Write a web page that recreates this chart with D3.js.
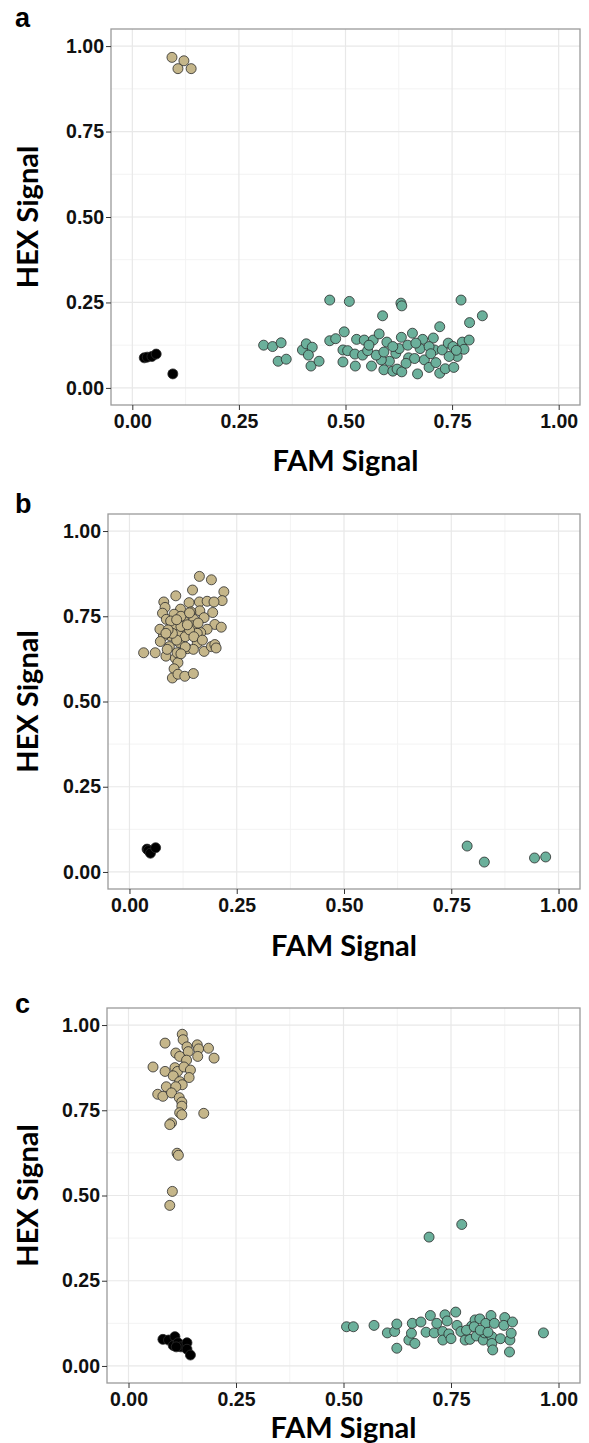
<!DOCTYPE html>
<html>
<head>
<meta charset="utf-8">
<script src="https://cdn.jsdelivr.net/npm/d3@7"></script>
<style>
  body { margin: 0; background: #fff; }
  .tick text { font-family: "Liberation Sans", Arial, sans-serif; font-weight: bold; font-size: 19.5px; fill: #111; }
  .tick line { stroke: #333; }
  .axis-title { font-family: Lato, "Open Sans", sans-serif; font-weight: bold; font-size: 29px; fill: #000; }
  .panel-letter { font-family: "Liberation Sans", Arial, sans-serif; font-weight: bold; font-size: 27px; fill: #000; }
</style>
</head>
<body>
<div id="chart"></div>
<script>
// tick values shared by both axes
const ticks = [0, 0.25, 0.5, 0.75, 1.0];
const minorTicks = [0.125, 0.375, 0.625, 0.875];

// panel a  [FAM, HEX]
const aBlack = [[0.028,0.088],[0.035,0.090],[0.046,0.092],[0.056,0.099],[0.095,0.041]];
const aTan = [[0.093,0.967],[0.121,0.957],[0.107,0.934],[0.138,0.934]];
const aTeal = [
  [0.463,0.257],[0.509,0.253],[0.630,0.248],[0.632,0.240],[0.771,0.257],[0.587,0.211],[0.821,0.211],
  [0.791,0.191],[0.721,0.179],[0.308,0.125],[0.329,0.121],[0.349,0.132],[0.342,0.078],[0.361,0.084],
  [0.399,0.111],[0.408,0.129],[0.422,0.119],[0.413,0.096],[0.419,0.064],[0.438,0.078],[0.463,0.138],
  [0.477,0.144],[0.497,0.164],[0.494,0.111],[0.505,0.109],[0.494,0.076],[0.523,0.064],[0.526,0.142],
  [0.522,0.099],[0.540,0.096],[0.561,0.064],[0.544,0.140],[0.565,0.140],[0.579,0.158],[0.597,0.134],
  [0.590,0.053],[0.611,0.049],[0.621,0.055],[0.632,0.047],[0.603,0.078],[0.584,0.082],[0.572,0.096],
  [0.552,0.109],[0.618,0.101],[0.626,0.115],[0.631,0.148],[0.657,0.160],[0.646,0.125],[0.648,0.088],
  [0.662,0.086],[0.669,0.041],[0.681,0.142],[0.675,0.115],[0.685,0.082],[0.696,0.060],[0.706,0.146],
  [0.709,0.111],[0.712,0.074],[0.721,0.043],[0.727,0.111],[0.734,0.056],[0.741,0.131],[0.754,0.060],
  [0.752,0.121],[0.762,0.092],[0.774,0.134],[0.778,0.113],[0.790,0.140],[0.642,0.072],[0.696,0.121],
  [0.665,0.131],[0.611,0.121],[0.743,0.092],[0.555,0.125],[0.590,0.105],[0.700,0.100],[0.760,0.110]
];

// panel b
const bBlack = [[0.041,0.067],[0.044,0.063],[0.049,0.055],[0.061,0.071]];
const bTan = [
  [0.163,0.867],[0.191,0.857],[0.220,0.822],[0.216,0.796],[0.147,0.827],[0.108,0.810],[0.080,0.792],
  [0.083,0.776],[0.077,0.759],[0.086,0.741],[0.139,0.790],[0.163,0.792],[0.181,0.794],[0.197,0.792],
  [0.164,0.766],[0.143,0.763],[0.119,0.771],[0.104,0.756],[0.127,0.736],[0.150,0.741],[0.174,0.746],
  [0.194,0.761],[0.199,0.726],[0.214,0.718],[0.181,0.712],[0.166,0.702],[0.147,0.722],[0.129,0.707],
  [0.104,0.722],[0.096,0.692],[0.079,0.692],[0.072,0.676],[0.093,0.661],[0.116,0.673],[0.135,0.655],
  [0.158,0.671],[0.174,0.647],[0.191,0.661],[0.199,0.667],[0.202,0.657],[0.033,0.643],[0.060,0.643],
  [0.085,0.633],[0.107,0.627],[0.113,0.614],[0.104,0.596],[0.100,0.569],[0.113,0.580],[0.129,0.574],
  [0.149,0.582],[0.088,0.653],[0.111,0.643],[0.149,0.653],[0.071,0.712],[0.096,0.736],[0.115,0.697],
  [0.158,0.700],[0.120,0.720],[0.130,0.690],[0.110,0.680],[0.140,0.710],[0.100,0.700],[0.120,0.750],
  [0.160,0.730],[0.140,0.760],[0.090,0.710],[0.130,0.660],[0.150,0.690],[0.110,0.740],[0.170,0.680],
  [0.120,0.640],[0.085,0.700],[0.135,0.725]
];
const bTeal = [[0.787,0.076],[0.827,0.029],[0.944,0.041],[0.970,0.044]];

// panel c
const cBlack = [
  [0.080,0.078],[0.093,0.076],[0.108,0.086],[0.104,0.060],[0.115,0.068],[0.122,0.056],
  [0.136,0.068],[0.136,0.049],[0.144,0.032],[0.111,0.056]
];
const cTan = [
  [0.125,0.973],[0.127,0.957],[0.085,0.947],[0.110,0.918],[0.119,0.908],[0.136,0.936],[0.139,0.922],
  [0.160,0.942],[0.163,0.930],[0.161,0.908],[0.186,0.932],[0.199,0.903],[0.135,0.897],[0.057,0.877],
  [0.085,0.864],[0.108,0.875],[0.114,0.864],[0.129,0.877],[0.144,0.868],[0.141,0.846],[0.104,0.851],
  [0.119,0.834],[0.125,0.825],[0.088,0.819],[0.110,0.819],[0.068,0.797],[0.080,0.791],[0.100,0.801],
  [0.118,0.787],[0.124,0.774],[0.124,0.762],[0.119,0.743],[0.124,0.737],[0.175,0.741],[0.100,0.713],
  [0.096,0.708],[0.113,0.624],[0.116,0.618],[0.102,0.512],[0.096,0.471]
];
const cTeal = [
  [0.507,0.115],[0.523,0.115],[0.571,0.119],[0.602,0.097],[0.619,0.101],[0.624,0.123],[0.624,0.052],
  [0.652,0.076],[0.658,0.096],[0.666,0.066],[0.660,0.125],[0.680,0.129],[0.702,0.148],[0.692,0.099],
  [0.711,0.097],[0.717,0.125],[0.731,0.101],[0.736,0.150],[0.741,0.132],[0.731,0.076],[0.745,0.094],
  [0.750,0.080],[0.761,0.158],[0.764,0.119],[0.773,0.101],[0.783,0.076],[0.794,0.078],[0.798,0.117],
  [0.806,0.135],[0.809,0.088],[0.817,0.138],[0.825,0.076],[0.828,0.097],[0.831,0.125],[0.843,0.148],
  [0.845,0.086],[0.845,0.066],[0.847,0.047],[0.851,0.125],[0.865,0.080],[0.875,0.142],[0.873,0.119],
  [0.887,0.076],[0.890,0.096],[0.893,0.129],[0.886,0.041],[0.965,0.097],[0.786,0.105],[0.804,0.115],
  [0.818,0.105],[0.836,0.099],[0.699,0.378],[0.775,0.415]
];

const colors = { black: "#000000", tan: "#c5b68a", teal: "#6bb09b" };

const panels = [
  { letter: "a", left: 111, top: 29, width: 469, height: 376, black: aBlack, tan: aTan, teal: aTeal, letterY: 27, xTitleY: 471 },
  { letter: "b", left: 108, top: 514, width: 472, height: 375, black: bBlack, tan: bTan, teal: bTeal, letterY: 513, xTitleY: 956 },
  { letter: "c", left: 107, top: 1008, width: 473, height: 375, black: cBlack, tan: cTan, teal: cTeal, letterY: 1013, xTitleY: 1438 }
];

const svg = d3.select("#chart").append("svg")
  .attr("width", 589)
  .attr("height", 1443);

panels.forEach(p => {
  let x = d3.scaleLinear().domain([-0.05, 1.05]).range([0, p.width]);
  let y = d3.scaleLinear().domain([-0.05, 1.05]).range([p.height, 0]);

  let g = svg.append("g")
    .attr("transform", "translate(" + p.left + "," + p.top + ")");

  // grid
  g.selectAll(".minor-x").data(minorTicks).enter().append("line")
    .attr("x1", d => x(d)).attr("x2", d => x(d))
    .attr("y1", 0).attr("y2", p.height)
    .attr("stroke", "#f3f3f3").attr("stroke-width", 1);
  g.selectAll(".minor-y").data(minorTicks).enter().append("line")
    .attr("y1", d => y(d)).attr("y2", d => y(d))
    .attr("x1", 0).attr("x2", p.width)
    .attr("stroke", "#f3f3f3").attr("stroke-width", 1);
  g.selectAll(".major-x").data(ticks).enter().append("line")
    .attr("x1", d => x(d)).attr("x2", d => x(d))
    .attr("y1", 0).attr("y2", p.height)
    .attr("stroke", "#e8e8e8").attr("stroke-width", 1.2);
  g.selectAll(".major-y").data(ticks).enter().append("line")
    .attr("y1", d => y(d)).attr("y2", d => y(d))
    .attr("x1", 0).attr("x2", p.width)
    .attr("stroke", "#e8e8e8").attr("stroke-width", 1.2);

  // points
  let pts = [];
  p.tan.forEach(d => pts.push({ fam: d[0], hex: d[1], grp: "tan" }));
  p.teal.forEach(d => pts.push({ fam: d[0], hex: d[1], grp: "teal" }));
  p.black.forEach(d => pts.push({ fam: d[0], hex: d[1], grp: "black" }));

  g.selectAll("circle").data(pts).enter().append("circle")
    .attr("cx", d => x(d.fam))
    .attr("cy", d => y(d.hex))
    .attr("r", 5)
    .attr("fill", d => colors[d.grp])
    .attr("stroke", "#2b2b2b")
    .attr("stroke-width", 0.8);

  // border
  g.append("rect")
    .attr("width", p.width).attr("height", p.height)
    .attr("fill", "none").attr("stroke", "#9a9a9a").attr("stroke-width", 1.3);

  // axes
  let fmt = d3.format(".2f");
  let xAxis = g.append("g")
    .attr("transform", "translate(0," + p.height + ")")
    .call(d3.axisBottom(x).tickValues(ticks).tickFormat(fmt).tickSize(5).tickPadding(4));
  xAxis.select(".domain").remove();

  let yAxis = g.append("g")
    .call(d3.axisLeft(y).tickValues(ticks).tickFormat(fmt).tickSize(5).tickPadding(2));
  yAxis.select(".domain").remove();

  // titles
  svg.append("text")
    .attr("class", "axis-title")
    .attr("x", p.left + p.width / 2)
    .attr("y", p.xTitleY)
    .attr("text-anchor", "middle")
    .text("FAM Signal");

  svg.append("text")
    .attr("class", "axis-title")
    .attr("transform", "translate(38," + (p.top + p.height / 2) + ") rotate(-90)")
    .attr("text-anchor", "middle")
    .text("HEX Signal");

  svg.append("text")
    .attr("class", "panel-letter")
    .attr("x", 15)
    .attr("y", p.letterY)
    .text(p.letter);
});
</script>
</body>
</html>
